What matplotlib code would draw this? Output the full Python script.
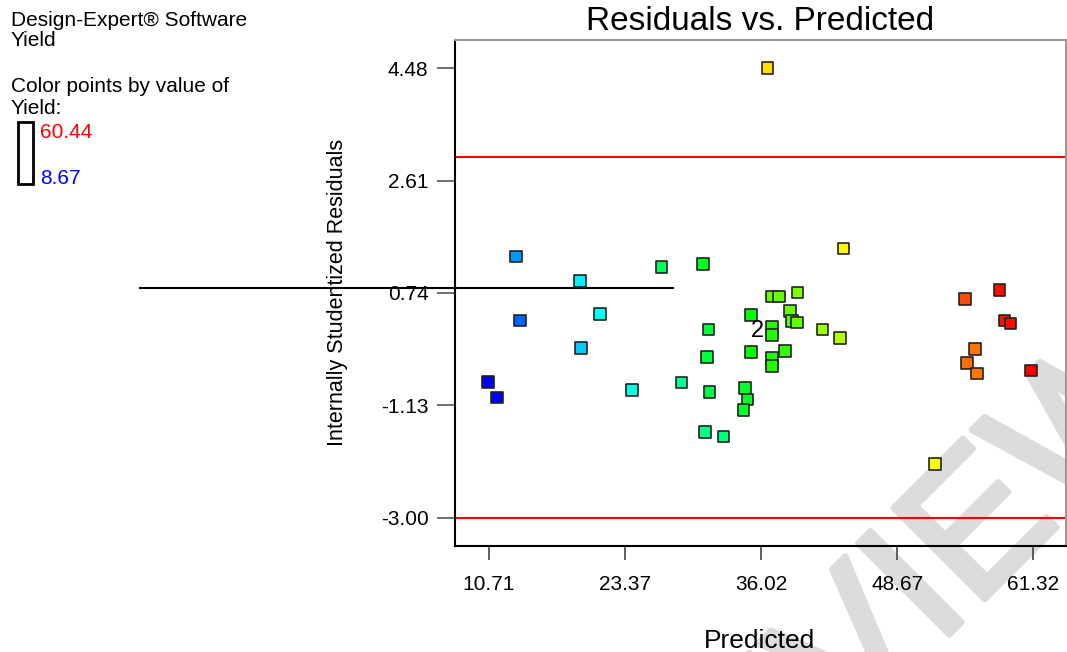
import numpy as np
import matplotlib
matplotlib.use('Agg')
import matplotlib.pyplot as plt
import matplotlib.patheffects as pe
from matplotlib.colors import LinearSegmentedColormap
from matplotlib.patches import Rectangle

plt.rcParams['font.family'] = ['Liberation Sans', 'DejaVu Sans']

# values
predicted = [13.24, 19.21, 26.74, 30.61, 43.65, 37.05, 37.70, 39.41, 35.07, 13.61,
             21.07, 38.70, 38.91, 39.32, 31.11, 37.05, 37.05, 41.70, 43.34, 19.28,
             35.07, 30.99, 38.26, 37.05, 37.05, 10.61, 11.50, 23.99, 28.60, 31.20,
             34.54, 34.73, 34.36, 30.80, 32.50, 36.62, 52.17, 58.15, 54.93, 58.61,
             59.17, 55.89, 55.17, 56.07, 61.06]
residuals = [1.35, 0.94, 1.17, 1.22, 1.48, 0.68, 0.68, 0.75, 0.37, 0.28,
             0.39, 0.44, 0.27, 0.25, 0.13, 0.17, 0.04, 0.13, -0.01, -0.18,
             -0.24, -0.33, -0.23, -0.34, -0.47, -0.74, -1.00, -0.87, -0.75, -0.91,
             -0.84, -1.03, -1.21, -1.57, -1.65, 4.48, -2.11, 0.79, 0.64, 0.28,
             0.23, -0.19, -0.42, -0.60, -0.55]
yield_vals = [16.4, 21.0, 30.0, 33.0, 48.0, 39.5, 39.8, 41.0, 34.5, 13.8,
              22.0, 39.5, 39.0, 39.5, 31.5, 36.0, 36.0, 42.3, 43.5, 19.0,
              34.5, 31.5, 37.0, 36.0, 36.0, 8.67, 9.0, 23.5, 27.0, 31.0,
              32.5, 32.5, 32.5, 27.5, 28.5, 49.0, 47.0, 59.8, 56.5, 59.5,
              60.0, 54.5, 54.8, 54.3, 60.44]
yield_min, yield_max = 8.67, 60.44

x_ticks = [10.71, 23.37, 36.02, 48.67, 61.32]
y_ticks = [-3.00, -1.13, 0.74, 2.61, 4.48]
limit_lines = [3.00, -3.00]
stray_line_y = 0.82
stray_line_x = [-21.7, 27.8]

cmap = LinearSegmentedColormap.from_list(
    'yield', ['#0000ff', '#00ffff', '#00ff00', '#ffff00', '#ff0000'])

W, H = 1067, 652
fig = plt.figure(figsize=(W / 100, H / 100), dpi=100)
ax = fig.add_axes([455 / W, 106 / H, 611 / W, 506 / H])
ax.set_facecolor('none')

# preview watermark behind everything (only the tail shows on the page)
fig.text(576 / W, 1 - 1008 / H, 'PREVIEW', fontsize=135, color='#dcdcdc',
         rotation=45, ha='left', va='baseline', rotation_mode='anchor', zorder=-5,
         path_effects=[pe.withStroke(linewidth=4.5, foreground='#dcdcdc')])

for yv in limit_lines:
    ax.axhline(yv, color='#ff0000', lw=1.5, zorder=2)

ax.plot(stray_line_x, [stray_line_y, stray_line_y], color='black', lw=1.5,
        clip_on=False, zorder=3)

ax.scatter(predicted, residuals, c=yield_vals, cmap=cmap, vmin=yield_min, vmax=yield_max,
           marker='s', s=70, edgecolors='#222222', linewidths=1.2, zorder=4)
ax.text(36.25, 0.105, '2', fontsize=17, ha='right', va='center', zorder=5)

ax.set_xlim(7.57, 64.34)
ax.set_ylim(-3.47, 4.95)
ax.set_xticks(x_ticks)
ax.set_yticks(y_ticks)
ax.set_xticklabels(['%.2f' % v for v in x_ticks])
ax.set_yticklabels(['%.2f' % v for v in y_ticks])
ax.tick_params(axis='x', direction='out', length=10, width=1.2, pad=11,
               labelsize=15, color='#444444')
ax.tick_params(axis='y', direction='out', length=13, width=1.2, pad=6,
               labelsize=15, color='#555555')

for side in ['left', 'bottom']:
    ax.spines[side].set_color('black')
    ax.spines[side].set_linewidth(1.5)
for side in ['top', 'right']:
    ax.spines[side].set_color('#999999')
    ax.spines[side].set_linewidth(1.5)

fig.text(760 / W, 1 - 21 / H, 'Residuals vs. Predicted', fontsize=24,
         ha='center', va='center')
fig.text(759 / W, 1 - 641 / H, 'Predicted', fontsize=19, ha='center', va='center')
fig.text(338 / W, 1 - 292 / H, 'Internally Studentized Residuals', fontsize=15.5,
         rotation=90, ha='center', va='center')

# legend block top left
fig.text(11 / W, 1 - 20 / H, 'Design-Expert® Software', fontsize=15, va='center')
fig.text(11 / W, 1 - 41 / H, 'Yield', fontsize=15, va='center')
fig.text(11 / W, 1 - 87 / H, 'Color points by value of', fontsize=15, va='center')
fig.text(11 / W, 1 - 108 / H, 'Yield:', fontsize=15, va='center')
fig.text(40 / W, 1 - 132 / H, '%.2f' % yield_max, fontsize=15, color='#ff0000', va='center')
fig.text(40 / W, 1 - 178 / H, '%.2f' % yield_min, fontsize=15, color='#0000ff', va='center')
fig.patches.append(Rectangle((18 / W, 1 - 184 / H), 15 / W, 62 / H, fill=False,
                             edgecolor='black', lw=2, transform=fig.transFigure,
                             figure=fig))

fig.savefig('out.png', dpi=100)
